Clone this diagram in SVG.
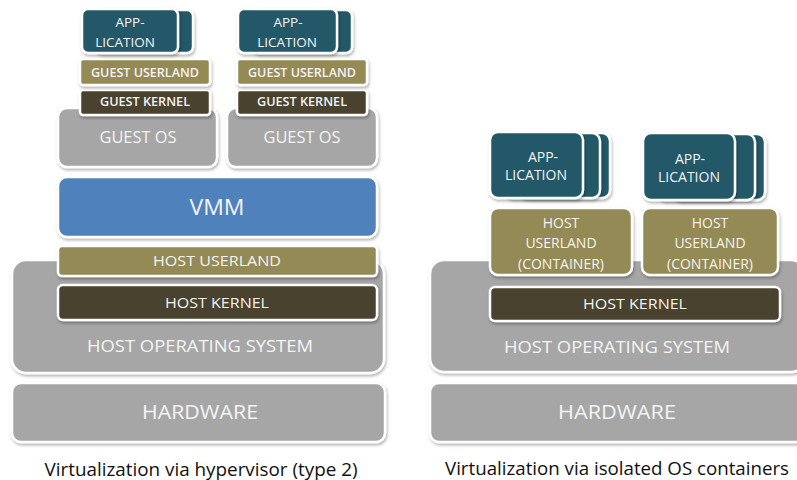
<svg xmlns="http://www.w3.org/2000/svg" width="797" height="480" viewBox="0 0 797 480">
<defs>
<filter id="sh" x="-10%" y="-10%" width="120%" height="130%">
<feDropShadow dx="1" dy="2" stdDeviation="1.5" flood-color="#000" flood-opacity="0.3"/>
</filter>
<style>
.b{stroke:#fff;stroke-width:2.5;filter:url(#sh)}
.gray{fill:#a6a6a6}
.dk{fill:#4a432d}
.ol{fill:#948a54}
.bl{fill:#4f81bd}
.tl{fill:#215868}
text{font-family:"Open Sans","Liberation Sans",Arial,sans-serif;fill:#f4f4f4;text-anchor:middle}
.sb{font-weight:600}
.cap{fill:#111;font-size:18px}
</style>
</defs>
<rect width="797" height="480" fill="#fff"/>

<g id="left">
<g id="l-hw"><rect class="b gray" x="12" y="383" width="373" height="59" rx="9"/><text x="200" y="419" font-size="20" textLength="116" lengthAdjust="spacingAndGlyphs">HARDWARE</text></g>
<g id="l-hos"><rect class="b gray" x="12" y="260" width="372" height="113" rx="14"/><text x="200" y="352" font-size="17" textLength="226" lengthAdjust="spacingAndGlyphs">HOST OPERATING  SYSTEM</text></g>
<g id="l-hk"><rect class="b dk" x="58" y="285" width="319" height="35" rx="5"/><text x="217" y="308" font-size="15" textLength="104" lengthAdjust="spacingAndGlyphs">HOST KERNEL</text></g>
<g id="l-hu"><rect class="b ol" x="58" y="246" width="319" height="30" rx="4"/><text x="217" y="266" font-size="15" textLength="128" lengthAdjust="spacingAndGlyphs">HOST USERLAND</text></g>
<g id="l-vmm"><rect class="b bl" x="58" y="177" width="319" height="60" rx="9"/><text x="217" y="215" font-size="22" textLength="55" lengthAdjust="spacingAndGlyphs">VMM</text></g>
<g id="l-gos1"><rect class="b gray" x="58" y="108" width="159" height="59" rx="9"/><text x="138" y="143" font-size="16" textLength="77" lengthAdjust="spacingAndGlyphs">GUEST OS</text></g>
<g id="l-gos2"><rect class="b gray" x="227" y="108" width="150" height="59" rx="9"/><text x="302" y="143" font-size="16" textLength="77" lengthAdjust="spacingAndGlyphs">GUEST OS</text></g>
<g id="l-gk1"><rect class="b dk" x="80" y="90" width="130" height="25" rx="3"/><text class="sb" x="145" y="106" font-size="12" textLength="90" lengthAdjust="spacingAndGlyphs">GUEST KERNEL</text></g>
<g id="l-gk2"><rect class="b dk" x="237" y="90" width="130" height="25" rx="3"/><text class="sb" x="302" y="106" font-size="12" textLength="90" lengthAdjust="spacingAndGlyphs">GUEST KERNEL</text></g>
<g id="l-gu1"><rect class="b ol" x="80" y="59" width="130" height="26" rx="3"/><text class="sb" x="145" y="77" font-size="12" textLength="108" lengthAdjust="spacingAndGlyphs">GUEST USERLAND</text></g>
<g id="l-gu2"><rect class="b ol" x="237" y="59" width="130" height="26" rx="3"/><text class="sb" x="302" y="77" font-size="12" textLength="108" lengthAdjust="spacingAndGlyphs">GUEST USERLAND</text></g>
<g id="l-app1"><rect class="b tl" x="96" y="10" width="97" height="43" rx="6"/><rect class="b tl" x="82" y="9" width="96" height="44" rx="6"/><text x="130" y="27" font-size="13.5">APP-</text><text x="125" y="47" font-size="13.5">LICATION</text></g>
<g id="l-app2"><rect class="b tl" x="253" y="10" width="99" height="43" rx="6"/><rect class="b tl" x="238" y="9" width="99" height="44" rx="6"/><text x="288" y="27" font-size="13.5">APP-</text><text x="287" y="47" font-size="13.5">LICATION</text></g>
<text class="cap" x="201" y="476" textLength="313" lengthAdjust="spacingAndGlyphs">Virtualization via hypervisor (type 2)</text>
</g>

<g id="right">
<g id="r-hw"><rect class="b gray" x="430" y="383" width="375" height="59" rx="9"/><text x="617" y="419" font-size="20" textLength="118" lengthAdjust="spacingAndGlyphs">HARDWARE</text></g>
<g id="r-hos"><rect class="b gray" x="430" y="260" width="375" height="112" rx="14"/><text x="617" y="353" font-size="17" textLength="226" lengthAdjust="spacingAndGlyphs">HOST OPERATING  SYSTEM</text></g>
<g id="r-hk"><rect class="b dk" x="490" y="287" width="290" height="34" rx="5"/><text x="635" y="309" font-size="15" textLength="104" lengthAdjust="spacingAndGlyphs">HOST KERNEL</text></g>
<g id="r-hu1"><rect class="b ol" x="490" y="208" width="142" height="67" rx="8"/><text x="561" y="228" font-size="14">HOST</text><text x="561" y="248" font-size="14">USERLAND</text><text x="561" y="269" font-size="14">(CONTAINER)</text></g>
<g id="r-hu2"><rect class="b ol" x="642" y="208" width="136" height="67" rx="8"/><text x="710" y="228" font-size="14">HOST</text><text x="710" y="248" font-size="14">USERLAND</text><text x="710" y="269" font-size="14">(CONTAINER)</text></g>
<g id="r-app1"><rect class="b tl" x="520" y="133" width="90" height="65" rx="8"/><rect class="b tl" x="505" y="133" width="95" height="65" rx="8"/><rect class="b tl" x="490" y="132" width="93" height="66" rx="8"/><text x="543" y="162" font-size="14">APP-</text><text x="536" y="180" font-size="14">LICATION</text></g>
<g id="r-app2"><rect class="b tl" x="673" y="134" width="92" height="66" rx="8"/><rect class="b tl" x="658" y="134" width="97" height="66" rx="8"/><rect class="b tl" x="643" y="133" width="92" height="67" rx="8"/><text x="690" y="164" font-size="14">APP-</text><text x="689" y="182" font-size="14">LICATION</text></g>
<text class="cap" x="617" y="475" textLength="344" lengthAdjust="spacingAndGlyphs">Virtualization via isolated OS containers</text>
</g>
</svg>
